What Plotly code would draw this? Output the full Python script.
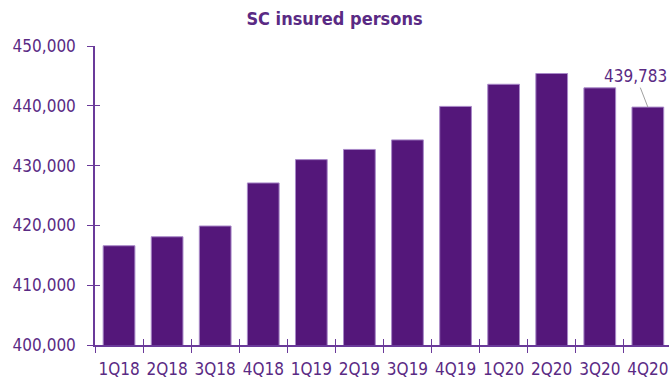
import plotly.graph_objects as go

categories = ["1Q18", "2Q18", "3Q18", "4Q18", "1Q19", "2Q19", "3Q19", "4Q19",
              "1Q20", "2Q20", "3Q20", "4Q20"]
values = [416600, 418100, 419900, 427100, 431000, 432700, 434300, 439900,
          443600, 445400, 443000, 439783]
y_ticks = [400000, 410000, 420000, 430000, 440000, 450000]
y_tick_text = ["400,000", "410,000", "420,000", "430,000", "440,000", "450,000"]
last_label = "439,783"

TEXT = "#5a2a84"
AXIS = "#6a3a9a"
BAR = "#54177a"
FONT = "DejaVu Sans Condensed"

fig = go.Figure()
fig.add_trace(go.Bar(
    x=categories, y=values,
    marker=dict(color=BAR, line=dict(color="#a888c8", width=1)),
    hoverinfo="skip",
))
fig.add_trace(go.Scatter(
    x=categories, y=values, xaxis="x2", yaxis="y2",
    mode="markers", marker=dict(opacity=0), hoverinfo="skip", showlegend=False,
))

xrange = [-0.5, 11.44]
yrange = [400000, 450000]

fig.update_layout(
    width=669, height=381,
    margin=dict(l=95, r=0, t=46, b=36),
    paper_bgcolor="white", plot_bgcolor="white",
    showlegend=False,
    bargap=0.34,
    title=dict(text="<b>SC insured persons</b>", x=0.5, xanchor="center",
               y=0.95, yanchor="middle",
               font=dict(family=FONT, size=18, color=TEXT)),
    xaxis=dict(type="category", range=xrange, tickson="boundaries",
               ticks="outside", ticklen=6, tickcolor=AXIS, tickwidth=1,
               tickangle=0, automargin=False, ticklabelstandoff=8,
               showline=True, linecolor=AXIS, linewidth=1.5,
               showgrid=False, zeroline=False,
               tickfont=dict(family=FONT, size=17, color=TEXT)),
    yaxis=dict(range=yrange, tickvals=y_ticks, ticktext=y_tick_text,
               ticks="outside", ticklen=6, tickcolor=AXIS, tickwidth=1,
               automargin=False, ticklabelstandoff=8,
               showline=True, linecolor=AXIS, linewidth=1.5,
               showgrid=False, zeroline=False,
               tickfont=dict(family=FONT, size=17, color=TEXT)),
    xaxis2=dict(type="category", range=xrange, tickson="boundaries",
                overlaying="x", ticks="inside", ticklen=6, tickcolor=AXIS,
                tickwidth=1, showticklabels=False, showgrid=False,
                zeroline=False, showline=False),
    yaxis2=dict(range=yrange, tickvals=y_ticks, overlaying="y",
                ticks="inside", ticklen=5, tickcolor=AXIS, tickwidth=1,
                showticklabels=False, showgrid=False, zeroline=False,
                showline=False),
)

fig.add_annotation(
    x=categories[-1], y=values[-1], text=last_label,
    showarrow=True, arrowhead=0, arrowcolor="#a0a0a0", arrowwidth=1,
    ax=-12, ay=-31, font=dict(family=FONT, size=17, color=TEXT),
)

fig.write_html("out.html")
